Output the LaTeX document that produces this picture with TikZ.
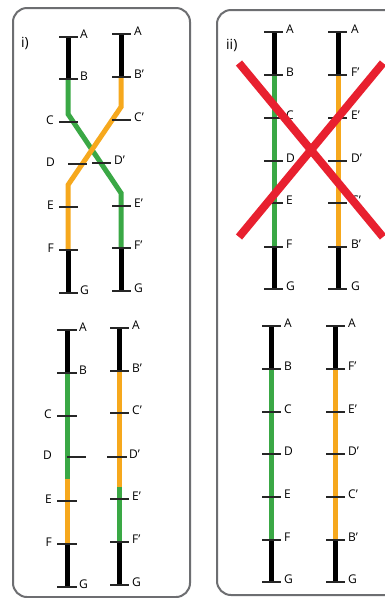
\documentclass[tikz,border=0pt]{standalone}
\usepackage{fontspec}
\setmainfont{Open Sans}
\definecolor{cgreen}{HTML}{3AA845}
\definecolor{corange}{HTML}{F6A81D}
\definecolor{cred}{HTML}{E8202F}
\definecolor{cpanel}{HTML}{6D6E71}
\begin{document}
\begin{tikzpicture}[x=1pt,y=-1pt,
  bar/.style={line width=5pt},
  tk/.style={line width=1.2pt, draw=black!85},
  lab/.style={font=\fontsize{12}{14}\selectfont, inner sep=0pt},
  panel/.style={draw=cpanel, line width=2pt, rounded corners=14pt}]
\clip (0,0) rectangle (385,598);
\fill[white] (0,0) rectangle (385,598);
% panels
\draw[panel] (13,8) rectangle (190,597);
\draw[panel] (217,10) rectangle (400,595);
\node[lab, font=\fontsize{14}{16}\selectfont, anchor=base west] (li) at (21,47) {i)};
\node[lab, font=\fontsize{14}{16}\selectfont, anchor=base west] (lii) at (226,49) {ii)};

% ---------- panel i, top ----------
\draw[bar, black] (68,37) -- (68,79);
\draw[bar, black] (68,250) -- (68,293);
\draw[bar, black] (121,34) -- (121,77);
\draw[bar, black] (121,248) -- (121,291);
\draw[bar, cgreen, miter limit=10] (68,79) -- (68,114) -- (121,193) -- (121,248);
\draw[bar, corange, miter limit=10] (121,77) -- (121,107) -- (68,185) -- (68,250);
\foreach \y in {37,79,122,207,250,293} \draw[tk] (59,\y) -- (78,\y);
\draw[tk] (68,164) -- (87,164);
\foreach \y in {34,77,120,206,248,291} \draw[tk] (112,\y) -- (131,\y);
\draw[tk] (92,163) -- (111,163);
\node[lab, anchor=base west] (a1) at (80,38) {A};
\node[lab, anchor=base west] (b1) at (80,80.5) {B};
\node[lab, anchor=base east] (c1) at (54,124) {C};
\node[lab, anchor=base east] (d1) at (55,166) {D};
\node[lab, anchor=base east] (e1) at (54,209) {E};
\node[lab, anchor=base east] (f1) at (54,252) {F};
\node[lab, anchor=base west] (g1) at (80,294.5) {G};
\node[lab, anchor=base west] (a2) at (134,35.5) {A};
\node[lab, anchor=base west] (b2) at (134,78.5) {B’};
\node[lab, anchor=base west] (c2) at (134,121.5) {C’};
\node[lab, anchor=base west] (d2) at (114,164.5) {D’};
\node[lab, anchor=base west] (e2) at (134,207.5) {E’};
\node[lab, anchor=base west] (f2) at (134,249.5) {F’};
\node[lab, anchor=base west] (g2) at (134,292.5) {G};

% ---------- panel i, bottom ----------
\draw[bar, black] (67,330) -- (67,373);
\draw[bar, cgreen] (67,373) -- (67,479);
\draw[bar, corange] (67,479) -- (67,544);
\draw[bar, black] (67,544) -- (67,587);
\draw[bar, black] (119,328) -- (119,371);
\draw[bar, corange] (119,371) -- (119,487);
\draw[bar, cgreen] (119,487) -- (119,542);
\draw[bar, black] (119,542) -- (119,585);
\foreach \y in {330,373,416,501,544,587} \draw[tk] (57,\y) -- (77,\y);
\draw[tk] (67,457) -- (86,457);
\foreach \y in {328,371,413,499,542,585} \draw[tk] (110,\y) -- (129,\y);
\draw[tk] (107,457) -- (127,457);
\node[lab, anchor=base west] (a3) at (79,331) {A};
\node[lab, anchor=base west] (b3) at (79,374.5) {B};
\node[lab, anchor=base east] (c3) at (52,418) {C};
\node[lab, anchor=base east] (d3) at (52,459) {D};
\node[lab, anchor=base east] (e3) at (52,503) {E};
\node[lab, anchor=base east] (f3) at (52,546) {F};
\node[lab, anchor=base west] (g3) at (79,588.5) {G};
\node[lab, anchor=base west] (a4) at (132,329.5) {A};
\node[lab, anchor=base west] (b4) at (132,372.5) {B’};
\node[lab, anchor=base west] (c4) at (132,414.5) {C’};
\node[lab, anchor=base west] (d4) at (129,458.5) {D’};
\node[lab, anchor=base west] (e4) at (132,500.5) {E’};
\node[lab, anchor=base west] (f4) at (132,543.5) {F’};
\node[lab, anchor=base west] (g4) at (132,586.5) {G};

% ---------- panel ii, top ----------
\draw[bar, black] (274,32) -- (274,75);
\draw[bar, cgreen] (274,75) -- (274,247);
\draw[bar, black] (274,247) -- (274,289);
\draw[bar, black] (338,32) -- (338,75);
\draw[bar, corange] (338,75) -- (338,247);
\draw[bar, black] (338,247) -- (338,289);
\foreach \y in {32,75,118,161,203,247,289} {
  \draw[tk] (264,\y) -- (283,\y);
  \draw[tk] (328,\y) -- (347,\y);
}
\foreach \y/\t [count=\i] in {32/A,75/B,118/C,161/D,203/E,247/F,289/G}
  \node[lab, anchor=base west] (p\i) at (286,\y+1.5) {\t};
\foreach \y/\t [count=\i] in {32/A,75/F’,118/E’,161/D’,203/C’,247/B’,289/G}
  \node[lab, anchor=base west] (q\i) at (351,\y+1.5) {\t};
\draw[cred, line width=8pt] (239,63) -- (383,237);
\draw[cred, line width=8pt] (383,63) -- (239,237);

% ---------- panel ii, bottom ----------
\draw[bar, black] (271,326) -- (271,369);
\draw[bar, cgreen] (271,369) -- (271,540);
\draw[bar, black] (271,540) -- (271,582);
\draw[bar, black] (335,326) -- (335,369);
\draw[bar, corange] (335,369) -- (335,540);
\draw[bar, black] (335,540) -- (335,582);
\foreach \y in {326,369,412,454,497,540,582} {
  \draw[tk] (262,\y) -- (281,\y);
  \draw[tk] (326,\y) -- (345,\y);
}
\foreach \y/\t [count=\i] in {326/A,369/B,412/C,454/D,497/E,540/F,582/G}
  \node[lab, anchor=base west] (r\i) at (284,\y+1.5) {\t};
\foreach \y/\t [count=\i] in {326/A,369/F’,412/E’,454/D’,497/C’,540/B’,582/G}
  \node[lab, anchor=base west] (s\i) at (348,\y+1.5) {\t};
\end{tikzpicture}
\end{document}
